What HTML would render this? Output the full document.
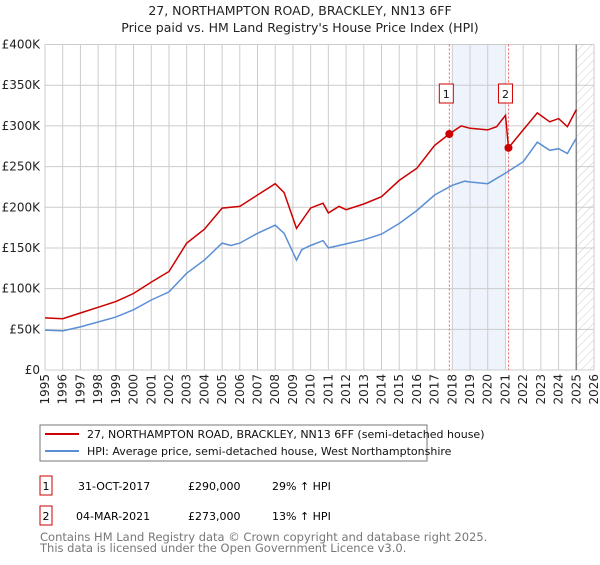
<!DOCTYPE html>
<html><head><meta charset="utf-8"><style>
body{margin:0;background:#fff;font-family:"Liberation Sans","DejaVu Sans",sans-serif;}
svg text{font-family:"DejaVu Sans","Liberation Sans",sans-serif;}
</style></head><body>
<svg id="c" width="600" height="560" xmlns="http://www.w3.org/2000/svg">
<defs><pattern id="hatch" width="6" height="6" patternUnits="userSpaceOnUse" patternTransform="rotate(45)"><line x1="0" y1="0" x2="0" y2="6" stroke="#ccc" stroke-width="1"/></pattern></defs>
<text x="300" y="15" text-anchor="middle" font-size="12.5" fill="#222">27, NORTHAMPTON ROAD, BRACKLEY, NN13 6FF</text>
<text x="300" y="32" text-anchor="middle" font-size="12.5" fill="#222">Price paid vs. HM Land Registry's House Price Index (HPI)</text>
<g id="grid"></g><g id="marks"></g>
<rect x="40" y="425" width="387" height="36" fill="#fff" stroke="#777"/>
<line x1="45" y1="434" x2="79" y2="434" stroke="#cc0000" stroke-width="2"/>
<text x="87" y="438" font-size="11" fill="#111">27, NORTHAMPTON ROAD, BRACKLEY, NN13 6FF (semi-detached house)</text>
<line x1="45" y1="451" x2="79" y2="451" stroke="#5b8fd4" stroke-width="2"/>
<text x="87" y="455" font-size="11" fill="#111">HPI: Average price, semi-detached house, West Northamptonshire</text>
<g>
<rect x="40" y="476" width="12" height="19" fill="#fff" stroke="#cc0000"/><text x="46" y="490" font-size="11" text-anchor="middle">1</text>
<text x="78" y="490" font-size="11">31-OCT-2017</text><text x="188" y="490" font-size="11">£290,000</text><text x="272" y="490" font-size="11">29% ↑ HPI</text></g>
<g>
<rect x="40" y="506" width="12" height="19" fill="#fff" stroke="#cc0000"/><text x="46" y="520" font-size="11" text-anchor="middle">2</text>
<text x="76" y="520" font-size="11">04-MAR-2021</text><text x="188" y="520" font-size="11">£273,000</text><text x="272" y="520" font-size="11">13% ↑ HPI</text></g>
<text x="40" y="541" font-size="11.5" fill="#777">Contains HM Land Registry data © Crown copyright and database right 2025.</text>
<text x="40" y="552" font-size="11.5" fill="#777">This data is licensed under the Open Government Licence v3.0.</text>
</svg>
<script>
const hpiYears=[1995,1996,1997,1998,1999,2000,2001,2002,2003,2004,2005,2005.5,2006,2007,2008,2008.5,2009.2,2009.5,2010,2010.7,2011,2012,2013,2014,2015,2016,2017,2018,2018.7,2019,2020,2021,2022,2022.8,2023.5,2024,2024.5,2025];
const hpiValues=[49,48,53,59,65,74,86,96,119,135,156,153,156,168,178,168,135,148,153,159,150,155,160,167,180,196,215,227,232,231,229,242,256,280,270,272,266,285];
const priceYears=[1995,1996,1997,1998,1999,2000,2001,2002,2003,2004,2005,2006,2007,2008,2008.5,2009.2,2010,2010.7,2011,2011.6,2012,2013,2014,2015,2016,2017,2017.83,2018.5,2019,2020,2020.5,2021.0,2021.17,2022,2022.8,2023.5,2024,2024.5,2025];
const priceValues=[64,63,70,77,84,94,108,121,156,173,199,201,215,229,218,174,199,205,193,201,197,204,213,233,248,276,290,300,297,295,299,313,273,295,316,305,309,299,320];
const saleYears=[2017.83,2021.17];
const saleValues=[290,273];
const yTicks=[0,50,100,150,200,250,300,350,400];
const yTickLabels=["£0","£50K","£100K","£150K","£200K","£250K","£300K","£350K","£400K"];
const xTicks=[1995,1996,1997,1998,1999,2000,2001,2002,2003,2004,2005,2006,2007,2008,2009,2010,2011,2012,2013,2014,2015,2016,2017,2018,2019,2020,2021,2022,2023,2024,2025,2026];
const X0=45,X1=594,Y0=370,Y1=44.5;
const xs=y=>X0+(y-1995)/(2026-1995)*(X1-X0);
const ys=v=>Y0-v/400*(Y0-Y1);
const NS="http://www.w3.org/2000/svg";
function mk(tag,attrs,parent){const e=document.createElementNS(NS,tag);for(const k in attrs)e.setAttribute(k,attrs[k]);parent.appendChild(e);return e;}
const g=document.getElementById('grid'),m=document.getElementById('marks');
const shade=mk('rect',{x:xs(2018),y:Y1,width:xs(2021)-xs(2018),height:Y0-Y1,fill:'#eef3fc'},g);


const hat=mk('rect',{x:xs(2025),y:Y1,width:X1-xs(2025),height:Y0-Y1,fill:'url(#hatch)'},g);


yTicks.forEach((t,i)=>{
 const l=mk('line',{x1:X0,x2:X1,y1:ys(t),y2:ys(t),stroke:'#ccc'},g);
 
 
 const tx=mk('text',{x:40,y:ys(t)+4,'text-anchor':'end','font-size':12,fill:'#222'},g);
 tx.textContent=yTickLabels[i];
 
 
});
xTicks.forEach(t=>{
 const l=mk('line',{x1:xs(t),x2:xs(t),y1:Y1,y2:Y0,stroke:'#ccc'},g);
 
 
 const tx=mk('text',{x:0,y:0,'text-anchor':'end','font-size':12,fill:'#222',transform:`translate(${xs(t)+4},${Y0+4}) rotate(-90)`},g);
 tx.textContent=t;
 
 
});
const vl=mk('line',{x1:xs(2025),x2:xs(2025),y1:Y1,y2:Y0,stroke:'#888','stroke-width':1.5},g);


saleYears.forEach((y,i)=>{
 const d=mk('line',{x1:xs(y),x2:xs(y),y1:Y1,y2:Y0,stroke:'#f06060','stroke-dasharray':'2,2'},m);
 
 
});
const pts=(xa,va)=>xa.map((y,i)=>xs(y).toFixed(1)+','+ys(va[i]).toFixed(1)).join(' ');
const hl=mk('polyline',{points:pts(hpiYears,hpiValues),fill:'none',stroke:'#5b8fd4','stroke-width':1.5},m);


const pl=mk('polyline',{points:pts(priceYears,priceValues),fill:'none',stroke:'#cc0000','stroke-width':1.5},m);


saleYears.forEach((y,i)=>{
 const c=mk('circle',{cx:xs(y),cy:ys(saleValues[i]),r:4,fill:'#cc0000'},m);
 
 
 const bx=mk('rect',{x:xs(y)-10,y:84,width:14,height:19,fill:'#fff',stroke:'#cc0000'},m);
 
 
 const t=mk('text',{x:xs(y)-3,y:98,'text-anchor':'middle','font-size':11,fill:'#111'},m);
 t.textContent=String(i+1);
 
 
});
</script>
</body></html>
